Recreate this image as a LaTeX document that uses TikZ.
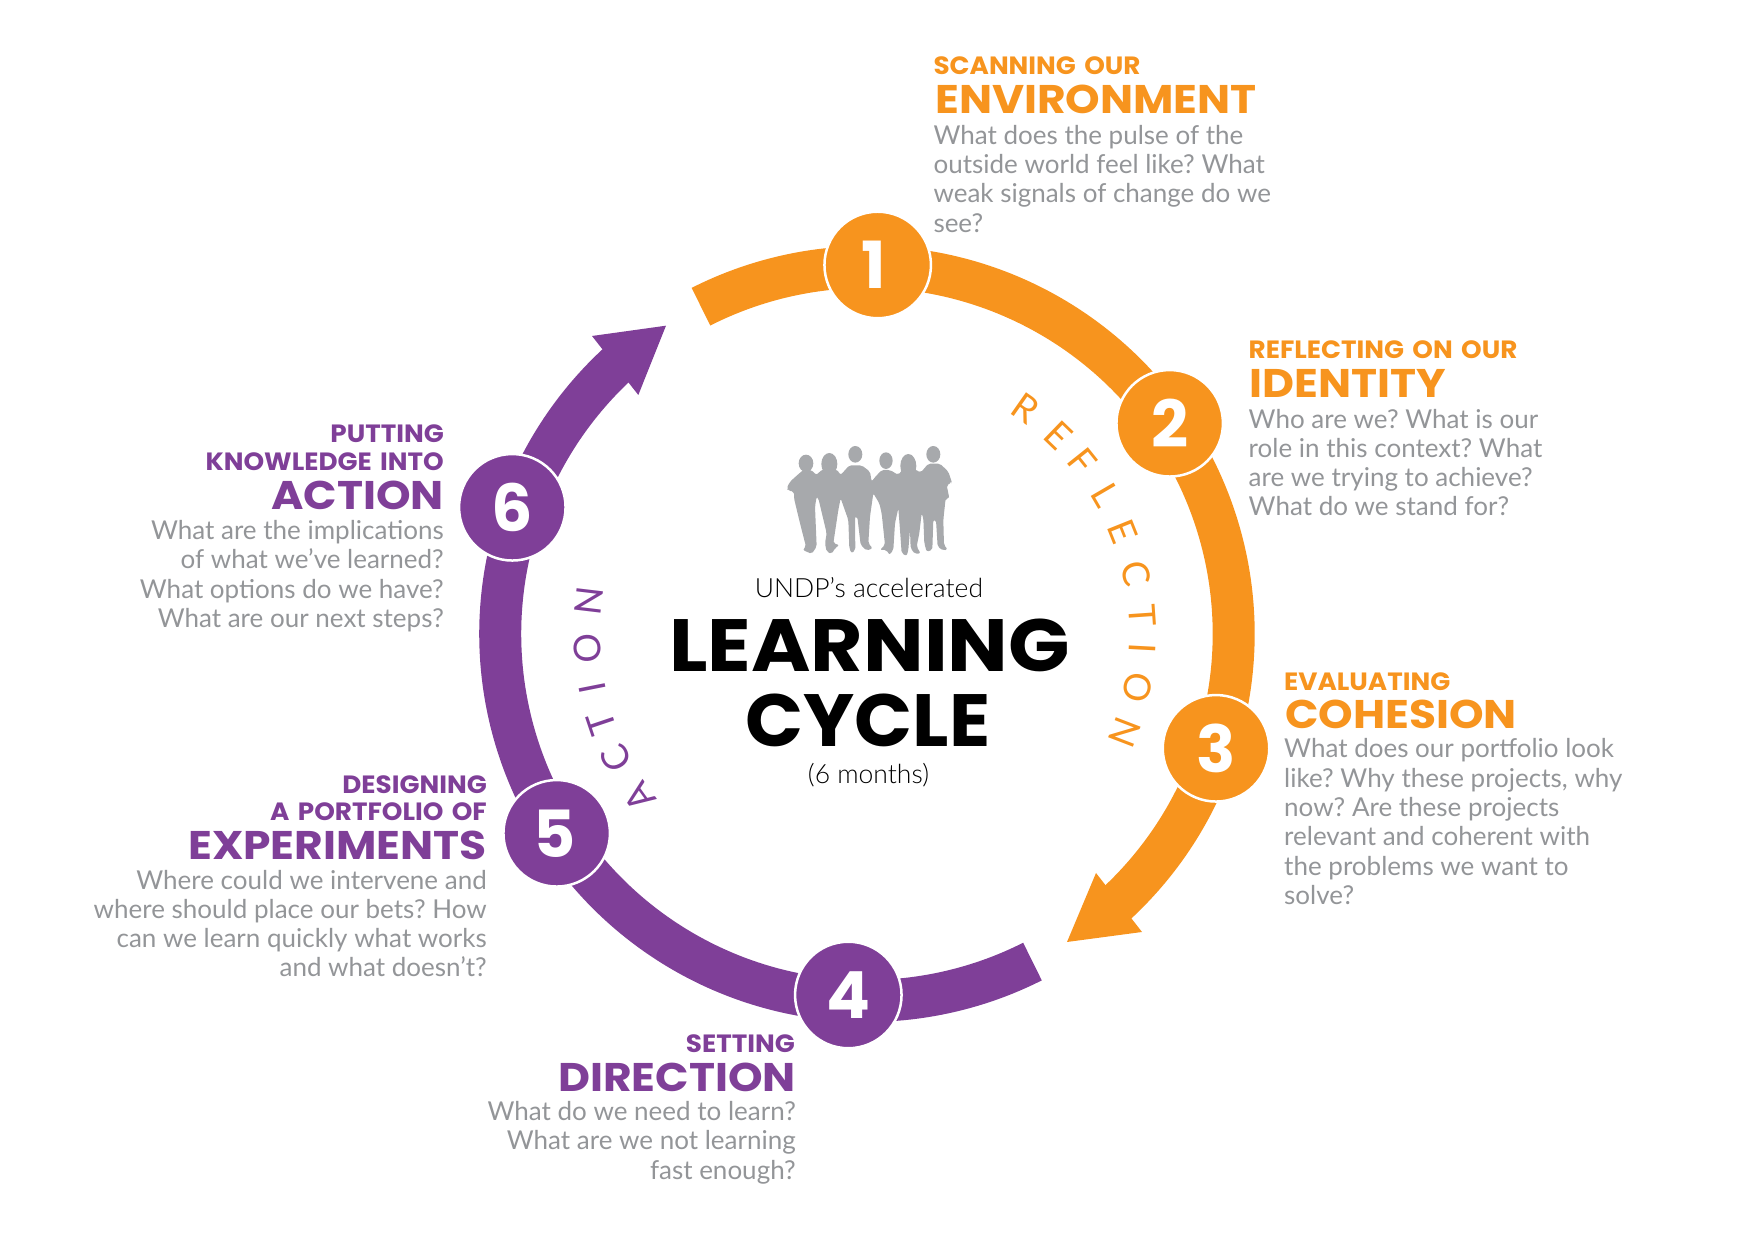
\documentclass[tikz,border=0pt]{standalone}
\usepackage{fontspec}
\setmainfont{Lato}
\newfontfamily\digitfont{Poppins}
\newfontfamily\kickfont{Poppins}[FakeStretch=1.05,WordSpace=1.5]
\newfontfamily\headfont{Poppins}[FakeStretch=1.10]
\newfontfamily\cyclefont{Poppins}[FakeStretch=1.09]
\newfontfamily\cyclefontb{Poppins}[FakeStretch=1.03]
\newfontfamily\lightfont{Lato Light}
\usetikzlibrary{backgrounds}
\definecolor{ringorange}{HTML}{F7941E}
\definecolor{ringpurple}{HTML}{7F3F98}
\definecolor{bodygray}{HTML}{939598}
\definecolor{crowdgray}{HTML}{A7A9AC}
\tikzset{
  stepcircle/.style={circle, draw=white, line width=2.5pt, minimum size=106.5pt, inner sep=0pt, text=white, font=\digitfont\bfseries\fontsize{65}{65}\selectfont},
  orangering/.style={draw=ringorange, line width=42pt},
  purplering/.style={draw=ringpurple, line width=42pt},
  kick/.style={inner sep=0pt, font=\kickfont\bfseries\fontsize{25}{25}\selectfont},
  head/.style={inner sep=0pt, font=\headfont\bfseries\fontsize{40}{40}\selectfont},
  body/.style={inner sep=0pt, text=bodygray, font=\frenchspacing\fontsize{26}{29.3}\selectfont},
  textl/.style={anchor=base west, align=left},
  textr/.style={anchor=base east, align=right},
  ringletter/.style={inner sep=0pt, font=\fontsize{37}{37}\selectfont}
}
\begin{document}
\begin{tikzpicture}[x=1pt,y=1pt]
\useasboundingbox (0,0) rectangle (1750,1241);
\coordinate (hub) at (867,607);
% numbered steps
\node[stepcircle, fill=ringorange] (n1) at (877.7,976) {\kern-7pt 1};
\node[stepcircle, fill=ringorange] (n2) at (1169.7,817.7) {2};
\node[stepcircle, fill=ringorange] (n3) at (1216,492.7) {3};
\node[stepcircle, fill=ringpurple] (n4) at (848.3,246) {4};
\node[stepcircle, fill=ringpurple] (n5) at (556.7,407.7) {\kern-4pt 5};
\node[stepcircle, fill=ringpurple] (n6) at (512.3,733.7) {6};
% ring pieces, under the steps
\coordinate (ostart) at ([shift={(116.9:367pt)}]hub);
\coordinate (pstart) at ([shift={(-63.2:367pt)}]hub);
\coordinate (otip) at (1067,299);
\coordinate (obarba) at (1096,368);
\coordinate (obarbb) at (1142,309);
\coordinate (ptip) at (666,915.3);
\coordinate (pbarba) at (592,905);
\coordinate (pbarbb) at (638.3,846);
\begin{scope}[on background layer]
\draw[orangering] (ostart) arc[start angle=116.9, end angle=88.3, radius=367pt];
\draw[orangering] (n1) ++(88.3:-2pt) arc[start angle=88.3, end angle=34.8, radius=367pt];
\draw[orangering] (n2) ++(34.8:-2pt) arc[start angle=34.8, end angle=-18.1, radius=367pt];
\draw[orangering] (n3) arc[start angle=-18.1, end angle=-48, radius=367pt];
\fill[ringorange] (otip) -- (obarba) -- (obarbb) -- cycle;
\draw[purplering] (pstart) arc[start angle=-63.2, end angle=-92.97, radius=367pt];
\draw[purplering] (n4) ++(267.03:5.5pt) arc[start angle=267.03, end angle=212.7, radius=367pt];
\draw[purplering] (n5) ++(212.7:-2pt) arc[start angle=212.7, end angle=160.35, radius=367pt];
\draw[purplering] (n6) ++(160.35:-9pt) arc[start angle=160.35, end angle=132, radius=367pt];
\fill[ringpurple] (ptip) -- (pbarba) -- (pbarbb) -- cycle;
\end{scope}
% letters round the ring
\foreach \i/\ltr/\ang in {1/R/55,2/E/46,3/F/38.6,4/L/30.2,5/E/21.8,6/C/12.7,7/T/3.9,8/I/-3,9/O/-11.2,10/N/-21}
  \node[ringletter, text=ringorange, rotate=\ang-90] (refl\i) at ([shift={(\ang:276pt)}]hub) {\ltr};
\foreach \i/\ltr/\ang in {1/A/215.7,2/C/206.3,3/T/198.6,4/I/191.2,5/O/183,6/N/173.2}
  \node[ringletter, text=ringpurple, rotate=\ang-90] (act\i) at ([shift={(\ang:280pt)}]hub) {\ltr};
% people
\begin{scope}[shift={(770,811)},x=.3333pt,y=-.3333pt]
\fill[crowdgray] (108,100) ellipse[x radius=22, y radius=26];
\fill[crowdgray] (178,102) ellipse[x radius=24, y radius=33];
\fill[crowdgray] (256,73) ellipse[x radius=21, y radius=25];
\fill[crowdgray] (348,92) ellipse[x radius=20, y radius=25];
\fill[crowdgray] (415,108) ellipse[x radius=24, y radius=36];
\fill[crowdgray] (490,73) ellipse[x radius=21, y radius=25];
\fill[crowdgray, rounded corners=2pt] (50,175) -- (60,155) -- (88,130) -- (100,120) -- (125,120) -- (138,135) -- (158,118) -- (200,118) -- (212,135) -- (238,106) -- (275,106) -- (300,125) -- (305,155) -- (312,145) -- (335,120) -- (360,120) -- (385,135) -- (398,118) -- (435,118) -- (452,128) -- (475,101) -- (510,101) -- (535,125) -- (545,155) -- (545,158) -- (530,165) -- (538,205) -- (527,205) -- (520,270) -- (522,345) -- (533,358) -- (520,362) -- (503,350) -- (498,270) -- (490,270) -- (487,360) -- (470,365) -- (463,340) -- (460,265) -- (455,250) -- (448,310) -- (440,350) -- (452,370) -- (435,372) -- (422,355) -- (420,300) -- (415,360) -- (410,378) -- (395,370) -- (390,300) -- (385,235) -- (375,280) -- (370,360) -- (358,375) -- (350,360) -- (330,360) -- (345,345) -- (335,250) -- (328,220) -- (310,190) -- (300,260) -- (295,340) -- (308,355) -- (290,362) -- (272,345) -- (262,260) -- (255,260) -- (256,360) -- (245,370) -- (238,355) -- (235,270) -- (212,205) -- (205,240) -- (190,340) -- (208,345) -- (195,355) -- (185,372) -- (170,365) -- (165,340) -- (170,310) -- (145,205) -- (140,200) -- (135,230) -- (140,350) -- (125,372) -- (110,365) -- (98,360) -- (108,350) -- (90,280) -- (72,205) -- (72,185) -- (55,182) -- cycle;
\end{scope}
% centre
\node[inner sep=0pt, anchor=base, font=\lightfont\fontsize{26.5}{26.5}\selectfont] (undp) at (869,643.2) {UNDP’s accelerated};
\node[inner sep=0pt, anchor=base, font=\cyclefont\bfseries\fontsize{74}{74}\selectfont] (learning) at (869.7,569.3) {LEARNING};
\node[inner sep=0pt, anchor=base, font=\cyclefontb\bfseries\fontsize{74}{74}\selectfont] (cycle) at (868,494.3) {CYCLE};
\node[inner sep=0pt, anchor=base, font=\lightfont\fontsize{26.5}{26.5}\selectfont] (months) at (868.5,457.1) {(6 months)};
% step 1
\node[kick, textl, text=ringorange] (t1a) at (933.3,1166) {SCANNING OUR};
\node[head, textl, text=ringorange] (t1b) at (935,1127.7) {ENVIRONMENT};
\node[body, textl] (t1c) at (933.3,1008.9) {What does the pulse of the\\outside world feel like? What\\weak signals of change do we\\see?};
% step 2
\node[kick, textl, text=ringorange] (t2a) at (1248.5,882) {REFLECTING ON OUR};
\node[head, textl, text=ringorange] (t2b) at (1249.5,843.7) {IDENTITY};
\node[body, textl] (t2c) at (1248.5,725) {Who are we? What is our\\role in this context? What\\are we trying to achieve?\\What do we stand for?};
% step 3
\node[kick, textl, text=ringorange] (t3a) at (1284,550) {EVALUATING};
\node[head, textl, text=ringorange] (t3b) at (1285,512.5) {COHESION};
\node[body, textl] (t3c) at (1284,336.5) {What does our portfolio look\\like? Why these projects, why\\now? Are these projects\\relevant and coherent with\\the problems we want to\\solve?};
% step 4
\node[kick, textr, text=ringpurple] (t4a) at (795,188.5) {SETTING};
\node[head, textr, text=ringpurple] (t4b) at (796,149.7) {DIRECTION};
\node[body, textr] (t4c) at (796,61.7) {What do we need to learn?\\What are we not learning\\fast enough?};
% step 5
\node[kick, textr, text=ringpurple] (t5a) at (487,447.7) {DESIGNING};
\node[kick, textr, text=ringpurple] (t5b) at (487,420) {A PORTFOLIO OF};
\node[head, textr, text=ringpurple] (t5c) at (487,381) {EXPERIMENTS};
\node[body, textr] (t5d) at (487,264) {Where could we intervene and\\where should place our bets? How\\can we learn quickly what works\\and what doesn’t?};
% step 6
\node[kick, textr, text=ringpurple] (t6a) at (444,798) {PUTTING};
\node[kick, textr, text=ringpurple] (t6b) at (444,770) {KNOWLEDGE INTO};
\node[head, textr, text=ringpurple] (t6c) at (444,731) {ACTION};
\node[body, textr] (t6d) at (444,613.5) {What are the implications\\of what we’ve learned?\\What options do we have?\\What are our next steps?};
\end{tikzpicture}
\end{document}
